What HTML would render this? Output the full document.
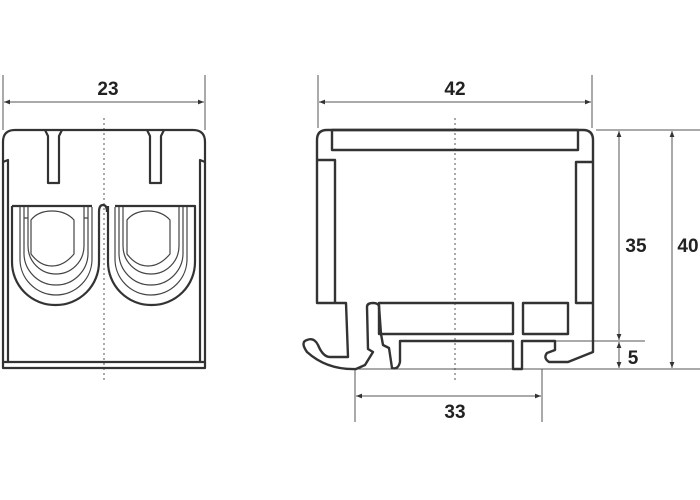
<!DOCTYPE html>
<html><head><style>html,body{margin:0;padding:0;background:#fff}svg{display:block}</style></head><body>
<svg width="700" height="500" viewBox="0 0 700 500" xmlns="http://www.w3.org/2000/svg" font-family="Liberation Sans, sans-serif">
<defs>
<marker id="a" viewBox="0 0 10 10" refX="10" refY="5" markerWidth="8" markerHeight="6" orient="auto-start-reverse"><path d="M0,1 L10,5 L0,9 z" fill="#333"/></marker>
</defs>
<g stroke="#555" stroke-width="1" fill="none">
<line x1="3" y1="75" x2="3" y2="130"/><line x1="205" y1="75" x2="205" y2="130"/>
<line x1="4" y1="102" x2="204" y2="102" marker-start="url(#a)" marker-end="url(#a)"/>
<line x1="318" y1="75" x2="318" y2="128"/><line x1="592" y1="75" x2="592" y2="128"/>
<line x1="319" y1="102" x2="591" y2="102" marker-start="url(#a)" marker-end="url(#a)"/>
<line x1="596" y1="130" x2="700" y2="130"/>
<line x1="619" y1="131" x2="619" y2="340" marker-start="url(#a)" marker-end="url(#a)"/>
<line x1="672" y1="131" x2="672" y2="368" marker-start="url(#a)" marker-end="url(#a)"/>
<line x1="555" y1="341" x2="645" y2="341"/>
<line x1="619" y1="342" x2="619" y2="368" marker-start="url(#a)" marker-end="url(#a)"/>
<line x1="355" y1="369" x2="700" y2="369"/>
<line x1="355" y1="369" x2="355" y2="422"/><line x1="542" y1="369" x2="542" y2="422"/>
<line x1="356" y1="396" x2="541" y2="396" marker-start="url(#a)" marker-end="url(#a)"/>
</g>
<g stroke="#555" stroke-width="1" stroke-dasharray="2,3" fill="none">
<line x1="104" y1="118" x2="104" y2="380"/>
<line x1="455" y1="118" x2="455" y2="380"/>
</g>
<g font-size="19" font-weight="bold" fill="#222">
<text x="108" y="95" text-anchor="middle">23</text>
<text x="455" y="95" text-anchor="middle">42</text>
<text x="636" y="252" text-anchor="middle">35</text>
<text x="688" y="252" text-anchor="middle">40</text>
<text x="633" y="364" text-anchor="middle">5</text>
<text x="455" y="418" text-anchor="middle">33</text>
</g>
<!-- left view -->
<g stroke="#333" stroke-width="2.2" fill="none" stroke-linejoin="round">
<path d="M3,368 L3,142 Q3,130 15,130 L193,130 Q205,130 205,142 L205,368 Z"/>
<line x1="3" y1="362" x2="205" y2="362"/>
<path d="M3,162 L8,160 L8,362 M205,162 L200,160 L200,362"/>
<path d="M45,130 L48,136 L48,183 L59,183 L59,136 L62,130"/>
<path d="M147,130 L150,136 L150,183 L161,183 L161,136 L164,130"/>
<path d="M12,206 L92,206 M99,212 L99,262 A43,43 0 0 1 56,305 L55,305 A43,43 0 0 1 12,262 L12,206"/>
<path d="M108,206 L108,262 A43,43 0 0 0 151,305 L152,305 A43,43 0 0 0 195,262 L195,206 L115,206"/>
<path d="M99,212 Q99,205 103,205 Q107,205 107,212"/>
</g>
<g stroke="#444" stroke-width="1.2" fill="none">
<path d="M20,207 L20,258 A36,36 0 0 0 56,295 A36,36 0 0 0 92,258 L92,207"/>
<path d="M24,207 L24,252 A32,32 0 0 0 56,285 A32,32 0 0 0 88,252 L88,207"/>
<path d="M28,207 L28,246 A28,28 0 0 0 56,274 A28,28 0 0 0 84,246 L84,207"/>
<path d="M24,218 L28,218 M84,218 L88,218"/>
<path d="M31,220 Q38,211 52,211 Q66,211 74,220 L74,254 Q64,266 52,266 Q40,266 31,254 Z"/>
<path d="M115,207 L115,258 A36,36 0 0 0 151,295 A36,36 0 0 0 187,258 L187,207"/>
<path d="M119,207 L119,252 A32,32 0 0 0 151,285 A32,32 0 0 0 183,252 L183,207"/>
<path d="M123,207 L123,246 A28,28 0 0 0 151,274 A28,28 0 0 0 179,246 L179,207"/>
<path d="M127,220 Q134,211 148,211 Q162,211 170,220 L170,254 Q160,266 148,266 Q136,266 127,254 Z"/>
</g>
<!-- right view -->
<g stroke="#333" stroke-width="2.4" fill="none" stroke-linejoin="round">
<path d="M317,303 L317,140 Q317,130 327,130 L583,130 Q593,130 593,140 L593,352 L568,362 L549,362 Q543,358 547,353 L555,350 L555,341 L522,341 L522,369 L513,369 L513,341 L400,341 L400,362 Q398,370 392,368 L389,348 L383,345 L381,334 L379,306 Q378,303 373,303 Q367,303 367,307 L368,349 L373,352 L365,365 L356,369 Q327,370 307,352 Q300,342 307,340 Q314,337 318,345 Q323,357 330,357 L348,357 L346,303 Z"/>
<rect x="332" y="130" width="246" height="20"/>
<path d="M317,160 L335,160 L335,303"/>
<path d="M593,162 L576,162 L576,303 L593,303"/>
<rect x="379" y="303" width="134" height="31"/>
<rect x="523" y="303" width="45" height="31"/>
</g>
</svg>
</body></html>
